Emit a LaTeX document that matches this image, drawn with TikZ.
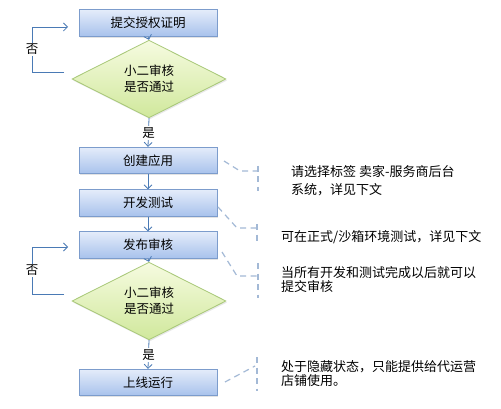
\documentclass[tikz,border=0pt]{standalone}
\usepackage{fontspec}
\setmainfont{Noto Sans CJK SC}
\usetikzlibrary{shapes.geometric,arrows.meta,shadows}
\definecolor{boxtop}{HTML}{E4ECFA}
\definecolor{boxbot}{HTML}{A8C2EC}
\definecolor{boxline}{HTML}{7C9CCC}
\definecolor{dtop}{HTML}{F6FBE0}
\definecolor{dbot}{HTML}{D0E89C}
\definecolor{dline}{HTML}{A8C878}
\definecolor{arrowc}{HTML}{4A7AB5}
\definecolor{callc}{HTML}{A3B9D6}
\begin{document}
\begin{tikzpicture}[x=1pt,y=-1pt,
  font=\fontsize{12.5}{16}\selectfont,
  procbox/.style={draw=boxline, line width=0.8pt, top color=boxtop, bottom color=boxbot,
    minimum width=138pt, minimum height=26.5pt, inner sep=0pt,
    drop shadow={opacity=0.22, shadow xshift=1pt, shadow yshift=-1.5pt}},
  decision/.style={shape=diamond, draw=dline, line width=0.8pt, top color=dtop, bottom color=dbot,
    minimum width=154pt, minimum height=54pt, inner sep=0pt, align=center,
    font=\fontsize{12.5}{16}\selectfont,
    drop shadow={opacity=0.18, shadow xshift=1pt, shadow yshift=-1.5pt}},
  arr/.style={draw=arrowc, line width=0.8pt, -{Straight Barb[length=4pt,width=8pt]}},
  lbl/.style={fill=white, inner sep=1.5pt},
  callout/.style={draw=callc, line width=1.2pt, dash pattern=on 6pt off 4.5pt},
  note/.style={anchor=west, align=left, inner sep=0pt}]

\fill[white] (0,0) rectangle (501,409);
\useasboundingbox (0,0) rectangle (501,409);

% main flow
\node[procbox] (b1) at (148,23) {提交授权证明};
\node[decision] (d1) at (149,79) {小二审核\\是否通过};
\node[procbox] (b2) at (148,160.5) {创建应用};
\node[procbox] (b3) at (148,203) {开发测试};
\node[procbox] (b4) at (148,245) {发布审核};
\node[decision] (d2) at (149,301) {小二审核\\是否通过};
\node[procbox] (b5) at (148,382.5) {上线运行};

\draw[arr] (b1.south) -- (d1.north);
\draw[arr] (d1.south) -- node[lbl] {是} (b2.north);
\draw[arr] (b2.south) -- (b3.north);
\draw[arr] (b3.south) -- (b4.north);
\draw[arr] (b4.south) -- (d2.north);
\draw[arr] (d2.south) -- node[lbl] {是} (b5.north);

% feedback loops
\coordinate (l1a) at (64,72);
\coordinate (l1b) at (32,72);
\coordinate (l1c) at (32,27);
\coordinate (l1d) at (68,27);
\draw[arr] (l1a) -- (l1b) -- node[lbl] {否} (l1c) -- (l1d);

\coordinate (l2a) at (64,294);
\coordinate (l2b) at (32,294);
\coordinate (l2c) at (32,247);
\coordinate (l2d) at (68,247);
\draw[arr] (l2a) -- (l2b) -- node[lbl] {否} (l2c) -- (l2d);

% callouts
\coordinate (c1a) at (224,161);
\coordinate (c1b) at (240,171);
\coordinate (c1c) at (258,171);
\coordinate (c1t) at (258,166);
\coordinate (c1u) at (258,191);
\draw[callout] (c1a) -- (c1b) -- (c1c);
\draw[callout] (c1t) -- (c1u);

\coordinate (c2a) at (218,207);
\coordinate (c2b) at (237,228);
\coordinate (c2c) at (257,228);
\coordinate (c2t) at (257,224);
\coordinate (c2u) at (257,242);
\draw[callout] (c2a) -- (c2b) -- (c2c);
\draw[callout] (c2t) -- (c2u);

\coordinate (c3a) at (222,252);
\coordinate (c3b) at (237,276);
\coordinate (c3c) at (258,276);
\coordinate (c3t) at (258,263);
\coordinate (c3u) at (258,298);
\draw[callout] (c3a) -- (c3b) -- (c3c);
\draw[callout] (c3t) -- (c3u);

\coordinate (c4a) at (225,382);
\coordinate (c4b) at (255,366);
\coordinate (c4t) at (257,357);
\coordinate (c4u) at (257,391);
\draw[callout] (c4a) -- (c4b);
\draw[callout] (c4t) -- (c4u);

% notes
\node[note, font=\fontsize{13}{17.5}\selectfont] (n1) at (291,180.5) {请选择标签 卖家-服务商后台\\系统，详见下文};
\node[note, font=\fontsize{13}{16}\selectfont] (n2) at (281,237) {可在正式/沙箱环境测试，详见下文};
\node[note, font=\fontsize{13}{14}\selectfont] (n3) at (281,280) {当所有开发和测试完成以后就可以\\提交审核};
\node[note, font=\fontsize{13}{14}\selectfont] (n4) at (281,373.5) {处于隐藏状态，只能提供给代运营\\店铺使用。};
\end{tikzpicture}
\end{document}
